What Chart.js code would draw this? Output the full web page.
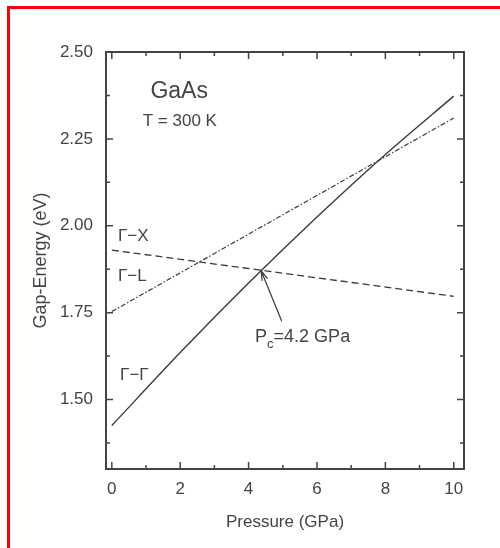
<!DOCTYPE html>
<html>
<head>
<meta charset="utf-8">
<script src="https://cdn.jsdelivr.net/npm/chart.js@4/dist/chart.umd.min.js"></script>
<style>
  html, body { margin: 0; padding: 0; background: #fff; }
  #wrap { position: relative; width: 500px; height: 548px; }
  #frame { position: absolute; left: 7px; top: 6px; right: 0; bottom: 0;
           border-left: 3px solid #f00; border-top: 3px solid #f00; pointer-events: none; }
</style>
</head>
<body>
<div id="wrap">
  <canvas id="gapChart" width="500" height="548"></canvas>
  <div id="frame"></div>
</div>
<script>
// pressure (GPa) and gap energies (eV)
const pressureGG = [0, 2, 4, 6, 8, 10];
const energyGG = [1.425, 1.635, 1.835, 2.025, 2.205, 2.373];
const pressureGX = [0, 10];
const energyGX = [1.753, 2.31];
const pressureGL = [0, 10];
const energyGL = [1.93, 1.797];

const xTicks = [0, 2, 4, 6, 8, 10];
const xMinor = [1, 3, 5, 7, 9];
const yTicks = [1.50, 1.75, 2.00, 2.25, 2.50];
const yMinor = [1.375, 1.625, 1.875, 2.125, 2.375];

const pcPressure = 4.37;
const pcEnergy = 1.87;

const ink = '#3a3a3a';
const textInk = '#444';
const fontFam = '"Liberation Sans", Arial, Helvetica, sans-serif';

function toPoints(xs, ys) {
  return xs.map(function(x, i) { return {x: x, y: ys[i]}; });
}

// box, inward ticks and text labels, all placed through the chart scales
const decorations = {
  id: 'decorations',
  afterDatasetsDraw: function(chart) {
    const ctx = chart.ctx;
    const a = chart.chartArea;
    const xs = chart.scales.x;
    const ys = chart.scales.y;
    ctx.save();
    ctx.strokeStyle = '#444';
    ctx.lineWidth = 2;
    ctx.strokeRect(a.left, a.top, a.right - a.left, a.bottom - a.top);

    ctx.lineWidth = 1.5;
    ctx.beginPath();
    function xt(v, len) {
      const px = xs.getPixelForValue(v);
      ctx.moveTo(px, a.bottom); ctx.lineTo(px, a.bottom - len);
      ctx.moveTo(px, a.top); ctx.lineTo(px, a.top + len);
    }
    function yt(v, len) {
      const py = ys.getPixelForValue(v);
      ctx.moveTo(a.left, py); ctx.lineTo(a.left + len, py);
      ctx.moveTo(a.right, py); ctx.lineTo(a.right - len, py);
    }
    xTicks.forEach(function(v) { xt(v, 7); });
    xMinor.forEach(function(v) { xt(v, 4); });
    yTicks.forEach(function(v) { yt(v, 7); });
    yMinor.forEach(function(v) { yt(v, 4); });
    ctx.stroke();

    ctx.fillStyle = textInk;
    ctx.textBaseline = 'middle';
    function label(text, x, y, size, align) {
      ctx.font = size + 'px ' + fontFam;
      ctx.textAlign = align || 'left';
      ctx.fillText(text, xs.getPixelForValue(x), ys.getPixelForValue(y));
    }
    label('GaAs', 1.97, 2.385, 23, 'center');
    label('T = 300 K', 1.99, 2.30, 17, 'center');
    label('\u0393\u2212X', 0.18, 1.970, 17);
    label('\u0393\u2212L', 0.18, 1.855, 17);
    label('\u0393\u2212\u0393', 0.24, 1.570, 17);

    // P_c label
    let px = xs.getPixelForValue(4.19);
    const py = ys.getPixelForValue(1.68);
    ctx.textAlign = 'left';
    ctx.font = '18px ' + fontFam;
    ctx.fillText('P', px, py);
    px += ctx.measureText('P').width;
    ctx.font = '13px ' + fontFam;
    ctx.fillText('c', px, py + 7);
    px += ctx.measureText('c').width;
    ctx.font = '18px ' + fontFam;
    ctx.fillText('=4.2 GPa', px, py);

    // arrow to the crossing point
    const tx = xs.getPixelForValue(pcPressure), ty = ys.getPixelForValue(pcEnergy);
    const sx = xs.getPixelForValue(4.97), sy = ys.getPixelForValue(1.725);
    const ang = Math.atan2(ty - sy, tx - sx);
    ctx.strokeStyle = ink;
    ctx.lineWidth = 1.2;
    ctx.beginPath();
    ctx.moveTo(sx, sy); ctx.lineTo(tx, ty);
    ctx.moveTo(tx - 10 * Math.cos(ang - 0.3), ty - 10 * Math.sin(ang - 0.3));
    ctx.lineTo(tx, ty);
    ctx.lineTo(tx - 10 * Math.cos(ang + 0.3), ty - 10 * Math.sin(ang + 0.3));
    ctx.stroke();
    ctx.restore();
  }
};

const ctx = document.getElementById('gapChart').getContext('2d');
new Chart(ctx, {
  type: 'line',
  data: {
    datasets: [{
      label: '\u0393-\u0393',
      data: toPoints(pressureGG, energyGG),
      borderColor: ink,
      borderWidth: 1.4,
      pointRadius: 0,
      cubicInterpolationMode: 'monotone'
    }, {
      label: '\u0393-X',
      data: toPoints(pressureGX, energyGX),
      borderColor: ink,
      borderWidth: 1.2,
      borderDash: [5, 2, 1.5, 2],
      pointRadius: 0
    }, {
      label: '\u0393-L',
      data: toPoints(pressureGL, energyGL),
      borderColor: ink,
      borderWidth: 1.3,
      borderDash: [7, 4],
      pointRadius: 0
    }]
  },
  options: {
    responsive: false,
    animation: false,
    layout: { padding: { top: 52, right: 36, left: 0, bottom: 0 } },
    plugins: { legend: { display: false }, tooltip: { enabled: false } },
    scales: {
      x: {
        type: 'linear',
        min: -0.17,
        max: 10.3,
        grid: { display: false, drawTicks: false },
        border: { display: false },
        afterBuildTicks: function(s) { s.ticks = xTicks.map(function(v) { return {value: v}; }); },
        afterFit: function(s) { s.height = 79; },
        ticks: {
          padding: 10,
          color: textInk,
          font: { family: fontFam, size: 17 },
          callback: function(v) { return String(v); }
        },
        title: {
          display: true,
          text: 'Pressure (GPa)',
          color: textInk,
          font: { family: fontFam, size: 17 },
          padding: { top: 0, bottom: 15 }
        }
      },
      y: {
        min: 1.30,
        max: 2.50,
        grid: { display: false, drawTicks: false },
        border: { display: false },
        afterBuildTicks: function(s) { s.ticks = yTicks.map(function(v) { return {value: v}; }); },
        afterFit: function(s) { s.width = 106; },
        ticks: {
          padding: 13,
          color: textInk,
          font: { family: fontFam, size: 17 },
          callback: function(v) { return Number(v).toFixed(2); }
        },
        title: {
          display: true,
          text: 'Gap-Energy (eV)',
          color: textInk,
          font: { family: fontFam, size: 18 },
          padding: { top: 30, bottom: 0 }
        }
      }
    }
  },
  plugins: [decorations]
});
</script>
</body>
</html>
